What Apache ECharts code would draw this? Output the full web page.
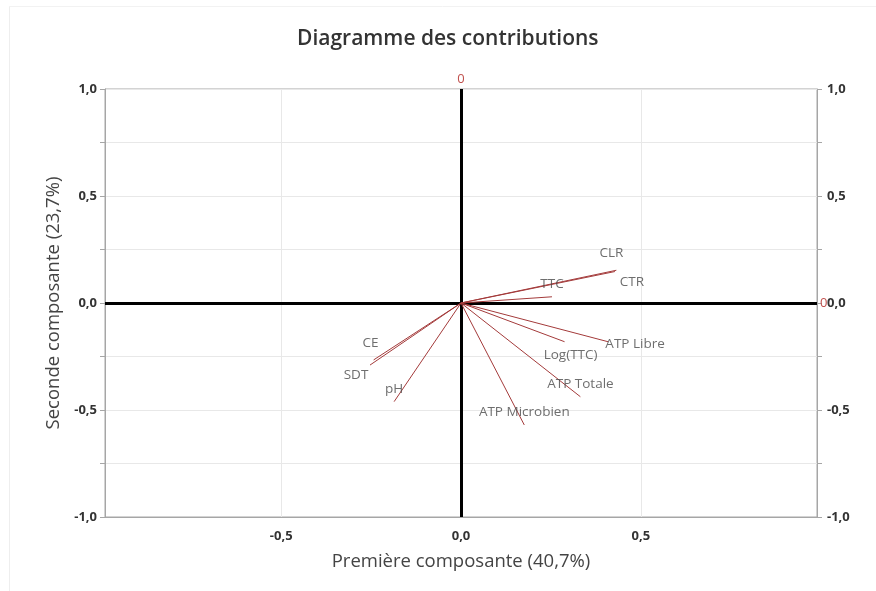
<!DOCTYPE html>
<html><head><meta charset="utf-8">
<script src="https://cdn.jsdelivr.net/npm/echarts@6/dist/echarts.min.js"></script>
<style>html,body{margin:0;padding:0;background:#fff}#c{width:876px;height:591px}</style>
</head><body><div id="c"></div>
<script>
const variables = ['CLR','CTR','TTC','ATP Libre','Log(TTC)','ATP Totale','ATP Microbien','CE','SDT','pH'];
const pc1 = [0.432, 0.428, 0.253, 0.409, 0.288, 0.332, 0.176, -0.243, -0.253, -0.186];
const pc2 = [0.153, 0.147, 0.029, -0.181, -0.181, -0.438, -0.570, -0.266, -0.290, -0.461];
const yTicks = [-1, -0.5, 0, 0.5, 1];
const xTicks = [-0.5, 0, 0.5];

// label offsets (style only)
const labelOffsets = [[-5,-17],[17,11],[0,-13],[27,2],[6,13],[0,-13],[0,-13],[-3,-17],[-14,10],[0,-12]];

const fmt = v => v.toFixed(1).replace('.', ',');
const FONT = '"Open Sans", "Noto Sans", sans-serif';

const chart = echarts.init(document.getElementById('c'));
const yAxisCommon = {
  type:'value', min:-1, max:1, interval:0.25,
  axisLine:{show:true, onZero:false, lineStyle:{color:'#a6a6a6', width:1}},
  axisTick:{show:true, inside:false, length:5, lineStyle:{color:'#a6a6a6'}},
  splitLine:{show:true, interval:1, lineStyle:{color:'#e8e8e8'}},
  axisLabel:{interval:1, color:'#333', fontSize:13, fontWeight:'bold', fontFamily:FONT,
    formatter: v => yTicks.some(t=>Math.abs(t-v)<1e-9) ? fmt(v) : ''}
};
chart.setOption({
  animation:false,
  title:{text:'Diagramme des contributions', left:292, top:24,
    textStyle:{fontSize:21, fontWeight:600, color:'#333', fontFamily:FONT}},
  graphic:[
    {type:'line', shape:{x1:9.5, y1:6, x2:9.5, y2:591}, style:{stroke:'#eeeeee', lineWidth:1}, silent:true},
    {type:'line', shape:{x1:9, y1:6.5, x2:876, y2:6.5}, style:{stroke:'#f2f2f2', lineWidth:1}, silent:true}
  ],
  grid:{left:105, right:59, top:89, bottom:74, show:true, borderColor:'#a6a6a6', borderWidth:1},
  xAxis:{type:'value', min:-0.99, max:0.99, minInterval:0.5, maxInterval:0.5,
    name:'Première composante (40,7%)', nameLocation:'middle', nameGap:35,
    nameTextStyle:{fontSize:18.5, color:'#444', fontFamily:FONT},
    axisLine:{show:true, onZero:false, lineStyle:{color:'#a6a6a6'}},
    axisTick:{show:false},
    splitLine:{show:true, lineStyle:{color:'#e8e8e8'}},
    axisLabel:{margin:13, color:'#333', fontSize:13, fontWeight:'bold', fontFamily:FONT,
      showMinLabel:false, showMaxLabel:false,
      formatter: v => xTicks.some(t=>Math.abs(t-v)<1e-9) ? fmt(v) : ''}
  },
  yAxis:[
    Object.assign({}, yAxisCommon, {position:'left', name:'Seconde composante (23,7%)',
      nameLocation:'middle', nameGap:41, nameRotate:90,
      nameTextStyle:{fontSize:18.5, color:'#444', fontFamily:FONT},
      axisLabel:Object.assign({}, yAxisCommon.axisLabel, {margin:8})}),
    Object.assign({}, yAxisCommon, {position:'right', splitLine:{show:false},
      axisLabel:Object.assign({}, yAxisCommon.axisLabel, {margin:10})})
  ],
  series:[
    {
      type:'lines', coordinateSystem:'cartesian2d', xAxisIndex:0, yAxisIndex:0, z:5,
      lineStyle:{color:'#a33a3a', width:1, opacity:1},
      data: variables.map((n,i)=>({name:n, coords:[[0,0],[pc1[i],pc2[i]]]}))
    },
    {
      type:'scatter', xAxisIndex:0, yAxisIndex:0, symbolSize:0, z:6,
      data: variables.map((n,i)=>({name:n, value:[pc1[i],pc2[i]],
        label:{show:true, position:'inside', offset:labelOffsets[i], formatter:n,
          color:'#4a4a4a', fontSize:13.5, fontFamily:FONT}})),
      markLine:{
        silent:true, symbol:'none', z:4,
        lineStyle:{color:'#000', width:3, type:'solid'},
        label:{show:true, position:'end', formatter:'0', color:'#c0504d', fontSize:13, fontFamily:FONT, distance:3},
        data:[{xAxis:0}, {yAxis:0}]
      }
    }
  ]
});
</script></body></html>
